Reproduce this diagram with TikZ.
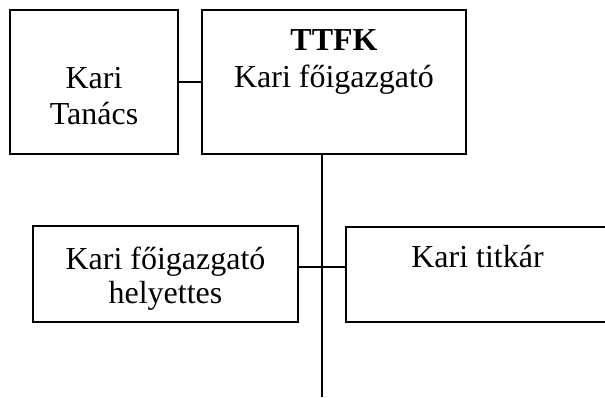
\documentclass[tikz,border=0pt]{standalone}
\usepackage{fontspec}
\setmainfont{Liberation Serif}
\begin{document}
\begin{tikzpicture}[x=1pt,y=-1pt,
  box/.style={draw=black,line width=1.6pt,fill=white,inner sep=0pt,outer sep=0pt},
  txt/.style={anchor=base,inner sep=0pt,font=\fontsize{32}{36}\selectfont},
  conn/.style={draw=black,line width=1.6pt}]
\useasboundingbox (0,0) rectangle (605,397);
\clip (0,0) rectangle (605,397);
% boxes
\node[box,minimum width=168,minimum height=144] (kt) at (94,82) {};
\node[box,minimum width=264,minimum height=144] (dir) at (334,82) {};
\node[box,minimum width=265,minimum height=96] (dep) at (165.5,274) {};
\node[box,minimum width=274,minimum height=95] (sec) at (483,274.5) {};
% texts
\node[txt] (t1) at (94,88) {Kari};
\node[txt] (t2) at (94,124) {Tanács};
\node[txt] (t3) at (334,50) {\textbf{TTFK}};
\node[txt] (t4) at (334,87) {Kari főigazgató};
\node[txt] (t5) at (165.5,269) {Kari főigazgató};
\node[txt] (t6) at (165.5,303) {helyettes};
\node[txt] (t7) at (477.5,267) {Kari titkár};
% connectors
\coordinate (vtop) at (322,154);
\coordinate (vbot) at (322,397);
\coordinate (h) at (322,267);
\draw[conn] (kt.east) -- (dir.west);
\draw[conn] (vtop) -- (vbot);
\draw[conn] (h -| dep.east) -- (h -| sec.west);
\end{tikzpicture}
\end{document}
